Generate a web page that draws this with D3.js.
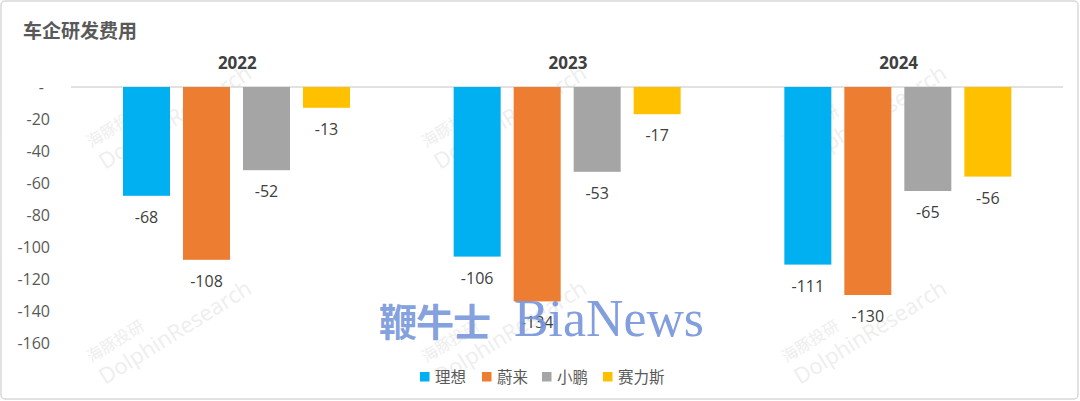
<!DOCTYPE html>
<html><head><meta charset="utf-8">
<script src="https://cdn.jsdelivr.net/npm/d3@7/dist/d3.min.js"></script>
<style>
html,body{margin:0;padding:0;background:#fff;}
svg{display:block;font-family:"Open Sans","Noto Sans CJK SC",sans-serif;}
</style></head>
<body>
<svg id="chart" width="1080" height="401"></svg>
<script>
const years = ["2022", "2023", "2024"];
const series = ["理想", "蔚来", "小鹏", "赛力斯"];
const colors = ["#00B0F0", "#ED7D31", "#A5A5A5", "#FFC000"];
const lixiang = [-68, -106, -111];
const nio = [-108, -134, -130];
const xpeng = [-52, -53, -65];
const seres = [-13, -17, -56];
const yTicks = [0, -20, -40, -60, -80, -100, -120, -140, -160];
const title = "车企研发费用";

const values = [lixiang, nio, xpeng, seres];
const svg = d3.select("#chart");

svg.append("rect").attr("x",1).attr("y",1).attr("width",1077).attr("height",398)
  .attr("rx",4).attr("fill","#fff").attr("stroke","#d9d9d9").attr("stroke-width",1.5);

const x0 = d3.scaleBand().domain(years).range([71, 1063]);
const x1 = d3.scaleBand().domain(series).range([52, 279]).paddingInner(13/60).paddingOuter(0);
const y = d3.scaleLinear().domain([0, -160]).range([87, 343]);

// watermarks (faint)
const wm = svg.append("g").attr("fill","#eeeeee").attr("font-size",22);
[[105,170],[105,385],[440,170],[440,385],[800,170],[800,385]].forEach(([wx,wy])=>{
  const g = wm.append("g").attr("transform",`translate(${wx},${wy}) rotate(-32)`);
  g.append("text").attr("x",0).attr("y",-26).attr("font-size",16).text("海豚投研");
  g.append("text").attr("x",0).attr("y",0).text("DolphinResearch");
});

// title
svg.append("text").attr("x",23).attr("y",38).attr("font-size",19).attr("font-weight","bold")
  .attr("fill","#595959").attr("font-family","Noto Sans CJK SC, sans-serif").text(title);

// y axis labels
const yAxis = d3.axisLeft(y).tickValues(yTicks).tickSize(0).tickPadding(0)
  .tickFormat(d => d === 0 ? "-" : d3.format("d")(d).replace("−","-"));
const ya = svg.append("g").attr("transform","translate(50,0)").call(yAxis);
ya.select(".domain").remove();
ya.selectAll("text").attr("font-size",16).attr("fill","#595959")
  .attr("font-family","Open Sans, sans-serif").attr("dy","0.35em")
  .attr("dx", d => d === 0 ? -6 : 0);

// zero line
svg.append("line").attr("x1",71).attr("x2",1063).attr("y1",y(0)).attr("y2",y(0))
  .attr("stroke","#d9d9d9").attr("stroke-width",1.3);

// bars
const groups = svg.selectAll("g.year").data(years).join("g").attr("class","year")
  .attr("transform", d => `translate(${x0(d)},0)`);

groups.append("text").attr("x", x0.bandwidth()/2 + 1).attr("y", 68.5).attr("text-anchor","middle")
  .attr("font-size",17).attr("font-weight","bold").attr("fill","#404040").text(d=>d);

groups.each(function(yr, yi){
  const g = d3.select(this);
  series.forEach((s, si) => {
    const v = values[si][yi];
    g.append("rect").attr("x", x1(s)).attr("width", x1.bandwidth())
      .attr("y", y(0)).attr("height", y(v) - y(0)).attr("fill", colors[si]);
    g.append("text").attr("x", x1(s) + x1.bandwidth()/2).attr("y", y(v) + 27)
      .attr("text-anchor","middle").attr("font-size",16).attr("fill","#404040")
      .text(String(v));
  });
});

// BiaNews watermark
const bwg = svg.append("g").attr("fill","#7494DA").attr("fill-opacity",0.9);
bwg.append("text").attr("x",379).attr("y",336).attr("font-family","Noto Sans CJK SC, sans-serif")
  .attr("font-weight","bold").attr("font-size",38).attr("letter-spacing",-1).text("鞭牛士");
bwg.append("text").attr("x",514).attr("y",336).attr("font-family","Liberation Serif, DejaVu Serif, serif")
  .attr("font-size",52).attr("textLength",190).attr("lengthAdjust","spacingAndGlyphs").text("BiaNews");

// legend
const lg = svg.append("g");
const legX = [420, 482, 542, 603];
series.forEach((s, i) => {
  lg.append("rect").attr("x", legX[i]).attr("y", 372).attr("width", 9.5).attr("height", 9.5).attr("fill", colors[i]);
  lg.append("text").attr("x", legX[i] + 15).attr("y", 382.5).attr("font-size",15.5)
    .attr("fill","#595959").attr("font-family","Noto Sans CJK SC, sans-serif").text(s);
});
</script>
</body></html>
